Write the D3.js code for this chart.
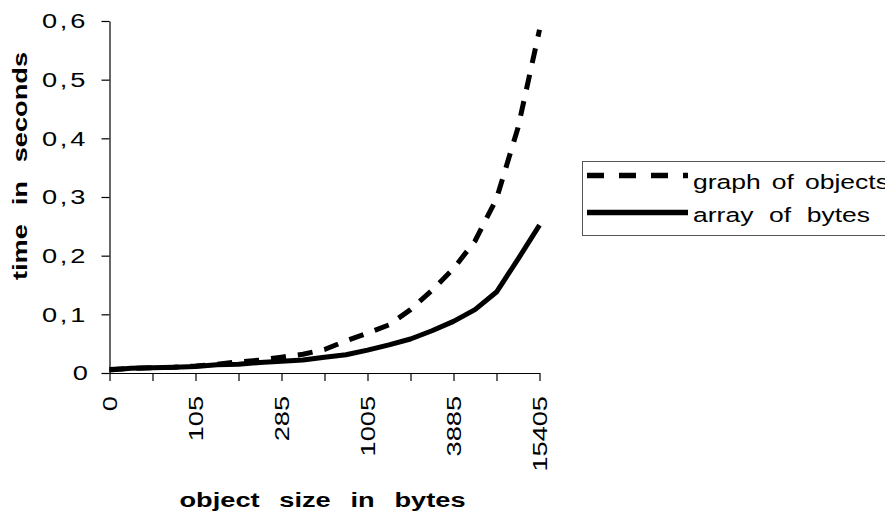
<!DOCTYPE html>
<html>
<head>
<meta charset="utf-8">
<script src="https://cdn.jsdelivr.net/npm/d3@7"></script>
<style>
  body { margin: 0; background: #fff; }
  svg { display: block; }
  text { font-family: "Liberation Sans", Arial, sans-serif; fill: #000; }
</style>
</head>
<body>
<svg id="chart" width="885" height="515"></svg>
<script>
// x positions are point indices 0..20, ticks every 2, labels every 4
const sizeLabels = ["0", "105", "285", "1005", "3885", "15405"];
const yTicks = [0, 0.1, 0.2, 0.3, 0.4, 0.5, 0.6];

const graphOfObjects = [0.006, 0.008, 0.009, 0.010, 0.012, 0.015, 0.019, 0.022, 0.027, 0.032,
  0.040, 0.055, 0.068, 0.082, 0.108, 0.141, 0.178, 0.225, 0.297, 0.418, 0.585];
const arrayOfBytes = [0.005, 0.008, 0.009, 0.010, 0.011, 0.014, 0.015, 0.018, 0.020, 0.022,
  0.027, 0.031, 0.039, 0.048, 0.058, 0.072, 0.088, 0.108, 0.138, 0.194, 0.252];

const svg = d3.select("#chart");

const PADDING = { left: 109.5, right: 539.5, top: 21, bottom: 373 };
const SX = 1.36; // the old chart's text is stretched sideways

const xscale = d3.scaleLinear().domain([0, 20]).range([PADDING.left, PADDING.right]);
const yscale = d3.scaleLinear().domain([0, 0.6]).range([PADDING.bottom, PADDING.top]);

// wide text: glyphs scaled in x, word gaps widened to reach a total length
function wideText(parent, o) {
    const g = parent.append("g")
        .attr("transform", `translate(${o.x},${o.y}) rotate(${o.rotate || 0}) scale(${SX},1)`);
    const t = g.append("text")
        .attr("text-anchor", o.anchor || "start")
        .attr("font-size", o.size || 20)
        .attr("font-weight", o.weight || "normal")
        .attr("dy", o.dy || null)
        .attr("letter-spacing", o.letterSpacing || null)
        .text(o.text);
    if (o.length) {
        const gaps = (o.text.match(/ /g) || []).length;
        const w0 = t.node().getComputedTextLength();
        const extra = o.length / SX - w0;
        if (gaps > 0) t.attr("word-spacing", Math.max(0, extra / gaps));
    }
    return t;
}

// y axis
const yaxis = d3.axisLeft(yscale)
    .tickValues(yTicks)
    .tickSize(8)
    .tickSizeOuter(0)
    .tickFormat("");

svg.append("g")
    .attr("transform", `translate(${PADDING.left},0)`)
    .call(yaxis);

yTicks.forEach(v => {
    wideText(svg, {
        x: 88, y: yscale(v), anchor: "end", dy: "0.36em", size: 20,
        letterSpacing: v === 0 ? null : 2,
        text: v === 0 ? "0" : v.toFixed(1).replace(".", ",")
    });
});

// x axis
const xaxis = d3.axisBottom(xscale)
    .tickValues(d3.range(0, 21, 2))
    .tickSize(8)
    .tickSizeOuter(0)
    .tickFormat("");

svg.append("g")
    .attr("transform", `translate(0,${PADDING.bottom})`)
    .call(xaxis);

sizeLabels.forEach((lab, i) => {
    wideText(svg, {
        x: xscale(i * 4), y: 396, rotate: -90, anchor: "end", dy: "0.36em", size: 20,
        text: lab
    });
});

svg.selectAll(".domain, .tick line").attr("stroke", "#000").attr("stroke-width", 1.2);

// series
const line = d3.line()
    .x((d, i) => xscale(i))
    .y(d => yscale(d));

svg.append("path")
    .datum(arrayOfBytes)
    .attr("fill", "none")
    .attr("stroke", "#000")
    .attr("stroke-width", 5)
    .attr("stroke-linejoin", "round")
    .attr("d", line);

svg.append("path")
    .datum(graphOfObjects)
    .attr("fill", "none")
    .attr("stroke", "#000")
    .attr("stroke-width", 5)
    .attr("stroke-linejoin", "round")
    .attr("stroke-dasharray", "15,12")
    .attr("d", line);

// axis titles
wideText(svg, {
    x: 27, y: 166, rotate: -90, anchor: "middle", weight: "bold", size: 20,
    length: 228, text: "time in seconds"
});
wideText(svg, {
    x: 322.5, y: 507, anchor: "middle", weight: "bold", size: 20,
    length: 286, text: "object size in bytes"
});

// legend
const legend = svg.append("g");
legend.append("rect")
    .attr("x", 582.5).attr("y", 161.5)
    .attr("width", 320).attr("height", 74)
    .attr("fill", "#fff")
    .attr("stroke", "#555")
    .attr("stroke-width", 1);

const legendItems = [
    { label: "graph of objects", dash: "17,15", y: 175.5, baseline: 189, len: 196 },
    { label: "array of bytes", dash: null, y: 212.5, baseline: 222, len: 177 }
];
legendItems.forEach(item => {
    legend.append("line")
        .attr("x1", 587).attr("x2", 688)
        .attr("y1", item.y).attr("y2", item.y)
        .attr("stroke", "#000")
        .attr("stroke-width", 5.5)
        .attr("stroke-dasharray", item.dash);
    wideText(legend, {
        x: 693, y: item.baseline, size: 19.5, length: item.len, text: item.label
    });
});
</script>
</body>
</html>
